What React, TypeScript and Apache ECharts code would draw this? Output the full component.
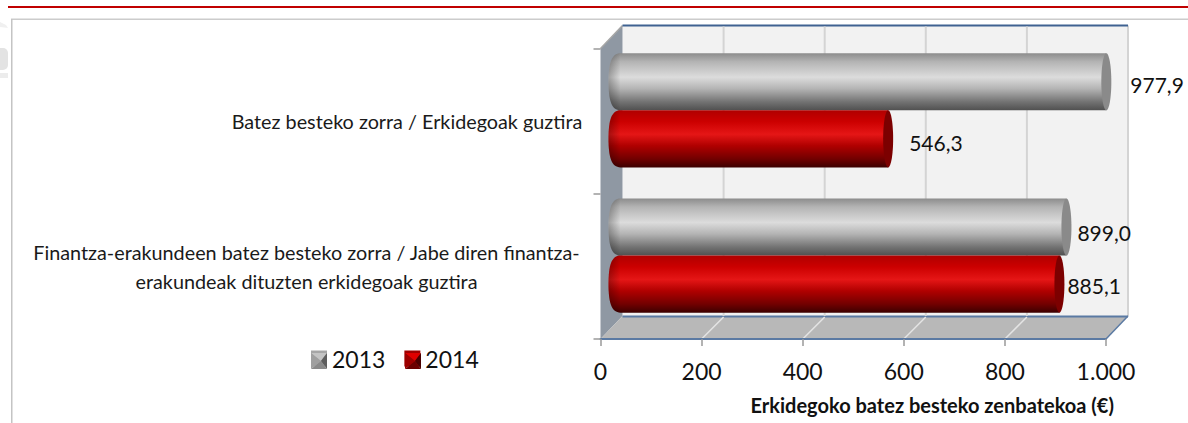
import React, { useEffect, useRef } from "react";
import * as echarts from "echarts";

const categories = [
  "Batez besteko zorra / Erkidegoak guztira",
  "Finantza-erakundeen batez besteko zorra / Jabe diren finantza-\nerakundeak dituzten erkidegoak guztira",
];
const series2013 = [977.9, 899.0];
const series2014 = [546.3, 885.1];
const labels2013 = ["977,9", "899,0"];
const labels2014 = ["546,3", "885,1"];
const xTicks = [0, 200, 400, 600, 800, 1000];
const xTitle = "Erkidegoko batez besteko zenbatekoa (€)";

const labelGap2013 = [19, 6];
const labelGap2014 = [16, 3];
const labelRise2013 = [2.5, 5];
const labelRise2014 = [4, 1];

const FONT = "Lato, Carlito, Calibri, sans-serif";
const DX = 22; // depth of the 3D box
const DY = 23;
const BLUE = "#5b7aa3";

const grad = (stops: [number, string][]) =>
  new echarts.graphic.LinearGradient(0, 0, 0, 1, stops.map(([offset, color]) => ({ offset, color })));

const grayStops: [number, string][] = [
  [0, "#8c8c8c"], [0.15, "#b4b4b4"], [0.42, "#dcdcdc"], [0.62, "#b4b4b4"], [0.85, "#737373"], [1, "#505050"],
];
const redStops: [number, string][] = [
  [0, "#b00000"], [0.2, "#cc0000"], [0.42, "#e51616"], [0.62, "#b00000"], [0.85, "#720000"], [1, "#3c0000"],
];

const backdrop = (params: any, api: any) => {
  const cs = params.coordSys;
  const x = api.coord([api.value(0), 0])[0];
  const top = cs.y;
  const bottom = cs.y + cs.height;
  const children: any[] = [];
  if (params.dataIndex === 0) {
    const l = cs.x;
    const r = cs.x + cs.width;
    children.push(
      { type: "rect", shape: { x: l + DX, y: top - DY, width: cs.width, height: cs.height }, style: { fill: "#f2f2f2" } },
      { type: "polygon", shape: { points: [[l, top], [l + DX, top - DY], [l + DX, bottom - DY], [l, bottom]] }, style: { fill: "#8f98a3" } },
      { type: "polygon", shape: { points: [[l, bottom], [l + DX, bottom - DY], [r + DX, bottom - DY], [r, bottom]] }, style: { fill: "#b8b8b8" } },
      { type: "line", shape: { x1: l, y1: top, x2: l + DX, y2: top - DY }, style: { stroke: "#a6a6a6", lineWidth: 1.5 } },
      { type: "line", shape: { x1: r + DX, y1: top - DY, x2: r + DX, y2: bottom - DY }, style: { stroke: "#d4d4d4", lineWidth: 2 } },
      { type: "line", shape: { x1: r, y1: bottom, x2: r + DX, y2: bottom - DY }, style: { stroke: BLUE, lineWidth: 1.5 } },
      { type: "line", shape: { x1: l + DX, y1: top - DY, x2: r + DX, y2: top - DY }, style: { stroke: "#3f6291", lineWidth: 2 } },
      { type: "line", shape: { x1: l + DX, y1: bottom - DY + 0.5, x2: r + DX, y2: bottom - DY + 0.5 }, style: { stroke: BLUE, lineWidth: 2 } }
    );
  } else if (api.value(0) < xTicks[xTicks.length - 1]) {
    children.push(
      { type: "line", shape: { x1: x + DX, y1: top - DY + 1, x2: x + DX, y2: bottom - DY }, style: { stroke: "#d4d4d4", lineWidth: 2 } },
      { type: "line", shape: { x1: x + DX, y1: bottom - DY + 1, x2: x, y2: bottom }, style: { stroke: "#e4e4e4", lineWidth: 1.5 } }
    );
  }
  return { type: "group", children };
};

const cylinder =
  (stops: [number, string][], capColor: string, side: number, labels: string[], gaps: number[], rises: number[]) =>
  (params: any, api: any) => {
    const idx = api.value(1);
    const [endX, cy] = api.coord([api.value(0), idx]);
    const startX = api.coord([0, idx])[0];
    const h = api.size([0, 1])[1] * 0.393;
    const t = cy - 10.8 + side * h;
    const b = t + h;
    const m = (t + b) / 2;
    const rx = 5;
    const end = endX + DX / 2 + 0.5;
    const l = startX + DX / 2 - 3;
    const corner = l + 12;
    const left = `M${corner} ${t} C${l + 3} ${t} ${l} ${t + 10} ${l} ${m} C${l} ${b - 10} ${l + 3} ${b} ${corner} ${b} Z`;
    const body = `M${corner} ${t} L${end} ${t} L${end} ${b} L${corner} ${b} C${l + 3} ${b} ${l} ${b - 10} ${l} ${m} C${l} ${t + 10} ${l + 3} ${t} ${corner} ${t} Z`;
    return {
      type: "group",
      children: [
        { type: "path", shape: { pathData: body }, style: { fill: grad(stops) } },
        {
          type: "path",
          shape: { pathData: left },
          style: {
            fill: new echarts.graphic.LinearGradient(0, 0, 1, 0, [
              { offset: 0, color: "rgba(0,0,0,0.28)" },
              { offset: 0.9, color: "rgba(0,0,0,0.03)" },
              { offset: 1, color: "rgba(0,0,0,0)" },
            ]),
          },
        },
        { type: "ellipse", shape: { cx: end, cy: m, rx, ry: h / 2 }, style: { fill: capColor } },
        {
          type: "text",
          style: {
            x: end + rx + gaps[idx],
            y: m + rises[idx],
            text: labels[idx],
            fill: "#111111",
            font: `21px ${FONT}`,
            align: "left",
            verticalAlign: "middle",
          },
        },
      ],
    };
  };

const bevel = (x: number, y: number, s: number, cols: string[]) => {
  const c = [x + s * 0.62, y + s / 2];
  const a = [x, y], bb = [x + s, y], d = [x + s, y + s], e = [x, y + s];
  return [
    [a, bb, c],
    [bb, d, c],
    [d, e, c],
    [e, a, c],
  ].map((points, i) => ({ type: "polygon", z: 50, shape: { points }, style: { fill: cols[i] } }));
};

export default function App() {
  const ref = useRef<HTMLDivElement>(null);
  useEffect(() => {
    const chart = echarts.init(ref.current!, undefined, { renderer: "svg" });
    const catStyle = { fontFamily: FONT, fontSize: 19.8, color: "#1a1a1a", lineHeight: 29, align: "center" };
    chart.setOption({
      animation: false,
      backgroundColor: "#ffffff",
      textStyle: { fontFamily: FONT },
      grid: { left: 600.5, top: 48.5, width: 505.5, height: 290.5, containLabel: false },
      legend: {
        left: 311,
        top: 347,
        padding: 0,
        icon: "rect",
        itemWidth: 16,
        itemHeight: 16,
        itemGap: 19,
        data: ["2013", "2014"],
        textStyle: { fontFamily: FONT, fontSize: 23, color: "#111111" },
        selectedMode: false,
      },
      xAxis: {
        type: "value",
        min: 0,
        max: 1000,
        interval: 200,
        position: "bottom",
        z: 5,
        axisLine: { show: true, onZero: false, lineStyle: { color: BLUE, width: 2 } },
        axisTick: { show: true, length: 7, lineStyle: { color: "#9a9a9a", width: 1.5 } },
        splitLine: { show: false },
        axisLabel: {
          color: "#111111",
          fontSize: 23,
          fontFamily: FONT,
          margin: 20,
          hideOverlap: false,
          formatter: (v: number) => (v >= 1000 ? String(v).replace(/(\d)(\d{3})$/, "$1.$2") : String(v)),
        },
        name: xTitle,
        nameLocation: "middle",
        nameGap: 56,
        nameMoveOverlap: false,
        nameTextStyle: { fontFamily: FONT, fontWeight: "bold", fontSize: 20, color: "#111111", padding: [0, 0, 0, 158] },
      },
      yAxis: {
        type: "category",
        inverse: true,
        data: categories,
        z: 5,
        axisLine: { show: false, onZero: false },
        axisTick: { show: true, length: 7, alignWithLabel: false, lineStyle: { color: "#9a9a9a", width: 1.5 } },
        splitLine: { show: false },
        axisLabel: {
          margin: 19,
          interval: 0,
          formatter: (v: string) => {
            const lines = v.split("\n");
            return lines.map((line) => `{${lines.length > 1 ? "b" : "a"}|${line}}`).join("\n");
          },
          rich: {
            a: { ...catStyle, width: 349 },
            b: { ...catStyle, width: 550 },
          },
        },
      },
      series: [
        {
          type: "custom",
          name: "frame",
          z: 1,
          silent: true,
          clip: false,
          renderItem: backdrop,
          data: xTicks.map((v) => [v, 0]),
          encode: { x: 0, y: 1 },
        },
        {
          type: "custom",
          name: "2013",
          z: 3,
          clip: false,
          itemStyle: { color: "#a6a6a6" },
          renderItem: cylinder(grayStops, "#8a8a8a", -1, labels2013, labelGap2013, labelRise2013),
          data: series2013.map((v, i) => [v, i]),
          encode: { x: 0, y: 1 },
        },
        {
          type: "custom",
          name: "2014",
          z: 3,
          clip: false,
          itemStyle: { color: "#a00000" },
          renderItem: cylinder(redStops, "#7c0000", 0, labels2014, labelGap2014, labelRise2014),
          data: series2014.map((v, i) => [v, i]),
          encode: { x: 0, y: 1 },
        },
      ],
      graphic: [
        { type: "rect", z: 50, shape: { x: 8, y: 6, width: 1180, height: 2 }, style: { fill: "#c00000" } },
        { type: "rect", z: 50, shape: { x: 11, y: 18.5, width: 1177, height: 1.5 }, style: { fill: "#cccccc" } },
        { type: "rect", z: 50, shape: { x: 11, y: 19, width: 1.5, height: 404 }, style: { fill: "#c4c4c4" } },
        { type: "polygon", z: 50, shape: { points: [[0, 22], [6, 25], [8, 28], [0, 27]] }, style: { fill: "#f0f0f0" } },
        { type: "rect", z: 50, shape: { x: 0, y: 48, width: 8, height: 22, r: [0, 5, 5, 0] }, style: { fill: "#e3e3e3" } },
        { type: "rect", z: 50, shape: { x: 0, y: 73, width: 8, height: 5 }, style: { fill: "#ececec" } },
        ...bevel(311, 353, 16, ["#c4c4c4", "#5e5e5e", "#8a8a8a", "#a0a0a0"]),
        ...bevel(405, 353, 16, ["#e00000", "#4a0000", "#6a0000", "#9c0000"]),
      ],
    });
    return () => chart.dispose();
  }, []);
  return <div ref={ref} style={{ position: "fixed", left: 0, top: 0, width: 1188, height: 423 }} />;
}
